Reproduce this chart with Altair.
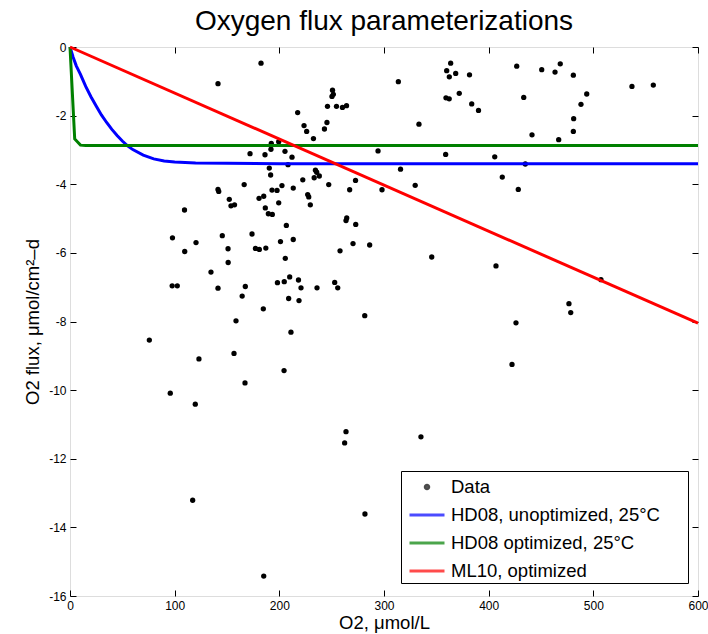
import altair as alt
import pandas as pd

FONT = "Liberation Sans"

# ---------------- data ----------------
series_names = ["Data", "HD08, unoptimized, 25°C", "HD08 optimized, 25°C", "ML10, optimized"]
series_colors = ["#000000", "#0000ff", "#008000", "#ff0000"]

data_o2 = [182.5, 141.4, 217.5, 192.3, 199.4, 192.0, 172.0, 186.3, 205.4, 212.1,
           208.3, 190.4, 191.7, 166.4, 141.4, 142.1, 202.5, 193.0, 197.8, 213.3,
           152.2, 153.8, 157.2, 180.6, 185.1, 199.4, 186.6, 189.5, 193.3, 109.4,
           97.9, 145.5, 173.9, 250.8, 251.6, 250.3, 246.0, 254.6, 260.3, 264.2,
           313.7, 359.9, 363.7, 362.4, 368.5, 381.7, 359.2, 362.3, 371.9, 223.6,
           226.1, 245.5, 243.1, 232.6, 333.4, 294.3, 358.9, 234.5, 235.7, 233.3,
           238.2, 222.4, 247.2, 272.8, 267.2, 298.1, 315.8, 329.8, 227.1, 228.1,
           229.6, 264.4, 263.7, 273.0, 206.7, 213.3, 201.1, 383.8, 390.3, 426.8,
           433.5, 450.7, 463.4, 468.4, 480.9, 493.7, 488.2, 481.2, 480.9, 466.9,
           441.4, 536.9, 557.3, 405.8, 435.0, 413.0, 428.3, 177.2, 180.9, 187.1,
           258.0, 270.4, 286.3, 205.7, 198.2, 204.7, 209.9, 218.3, 220.7, 236.0,
           252.9, 255.8, 208.9, 218.8, 184.7, 281.6, 211.1, 204.5, 109.6, 120.4,
           151.0, 151.1, 134.7, 97.6, 102.5, 141.4, 167.5, 164.5, 158.6, 75.8,
           123.2, 156.7, 167.2, 95.8, 345.6, 407.0, 507.3, 476.7, 478.4, 426.1,
           422.3, 119.7, 263.7, 262.4, 117.2, 281.8, 185.1, 335.3]

data_flux = [-0.47, -1.07, -1.91, -2.81, -2.76, -2.98, -3.11, -3.14, -3.04, -3.21,
             -3.43, -3.53, -3.73, -4.01, -4.15, -4.21, -4.04, -4.17, -4.18, -4.11,
             -4.44, -4.63, -4.60, -4.41, -4.35, -4.54, -4.69, -4.86, -4.88, -4.75,
             -5.56, -5.50, -5.45, -1.26, -1.38, -1.44, -1.73, -1.73, -1.76, -1.71,
             -1.01, -0.69, -0.47, -0.87, -0.77, -0.81, -1.48, -1.51, -1.35, -2.29,
             -2.46, -2.20, -2.39, -2.67, -2.25, -3.03, -3.13, -3.59, -3.65, -3.81,
             -3.76, -3.87, -4.01, -3.89, -4.16, -4.16, -3.56, -4.03, -4.30, -4.37,
             -4.60, -4.98, -5.06, -5.17, -5.20, -5.61, -5.67, -1.66, -1.85, -0.56,
             -1.47, -0.66, -0.73, -0.49, -0.82, -1.37, -1.67, -2.09, -2.46, -2.70,
             -2.56, -1.15, -1.11, -3.20, -3.41, -3.79, -4.15, -5.87, -5.90, -5.86,
             -5.94, -5.73, -5.77, -6.16, -6.87, -6.84, -6.70, -6.79, -7.02, -7.02,
             -6.86, -7.02, -7.33, -7.39, -7.63, -7.83, -8.31, -9.43, -5.96, -5.70,
             -5.88, -6.28, -6.56, -6.96, -6.96, -7.03, -6.98, -7.26, -7.98, -8.54,
             -9.09, -8.93, -9.79, -10.09, -6.12, -6.38, -6.78, -7.48, -7.74, -8.04,
             -9.25, -10.41, -11.21, -11.54, -13.21, -13.61, -15.42, -11.36]

hd08_unopt_o2 = [0, 3, 6, 10, 15, 20, 25, 30, 35, 40, 45, 50, 55, 60, 70, 80, 90,
                 100, 120, 150, 200, 600]
hd08_unopt_flux = [0, -0.30, -0.55, -0.80, -1.15, -1.45, -1.72, -1.98, -2.20, -2.40,
                   -2.58, -2.74, -2.88, -2.99, -3.15, -3.26, -3.32, -3.35, -3.38,
                   -3.39, -3.40, -3.40]

hd08_opt_o2 = [0, 4.5, 10, 15, 600]
hd08_opt_flux = [0, -2.68, -2.86, -2.87, -2.87]

ml10_o2 = [0, 600]
ml10_flux = [0, -8.05]

x_ticks = [0, 100, 200, 300, 400, 500, 600]
y_ticks = [-16, -14, -12, -10, -8, -6, -4, -2, 0]

# ---------------- tables ----------------
pts = pd.DataFrame({"o2": data_o2, "flux": data_flux})
curve_tables = [
    pd.DataFrame({"o2": hd08_unopt_o2, "flux": hd08_unopt_flux}),
    pd.DataFrame({"o2": hd08_opt_o2, "flux": hd08_opt_flux}),
    pd.DataFrame({"o2": ml10_o2, "flux": ml10_flux}),
]
legend_df = pd.DataFrame({"series": series_names})

xs = alt.Scale(domain=[0, 600], nice=False, zero=False)
ys = alt.Scale(domain=[-16, 0], nice=False, zero=False)

common_axis = dict(offset=-6, tickSize=6, domain=False, grid=False, ticks=True,
                   tickColor="black", tickWidth=1, labelFont=FONT, labelFontSize=12,
                   labelColor="black", labelFlush=False, labelOverlap=False,
                   titleFont=FONT, titleFontSize=18.5, titleFontWeight="normal",
                   titleColor="black")

x_bottom = alt.Axis(orient="bottom", values=x_ticks, labelPadding=4, format="d",
                    title="O2, μmol/L", titlePadding=2, **common_axis)
y_left = alt.Axis(orient="left", values=y_ticks, labelPadding=4,
                  labelExpr="'' + datum.value",
                  title="O2 flux, μmol/cm²–d", titlePadding=6, **common_axis)
x_top = alt.Axis(orient="top", values=x_ticks, offset=-6, tickSize=6, domain=False,
                 grid=False, labels=False, title=None, tickColor="black", tickWidth=1)
y_right = alt.Axis(orient="right", values=y_ticks, offset=-6, tickSize=6, domain=False,
                   grid=False, labels=False, title=None, tickColor="black", tickWidth=1)

points = alt.Chart(pts).mark_circle(size=28, color="black", opacity=1).encode(
    x=alt.X("o2:Q", scale=xs, axis=x_bottom),
    y=alt.Y("flux:Q", scale=ys, axis=y_left),
)

line_layers = []
for i, tbl in enumerate(curve_tables):
    lx = alt.X("o2:Q", scale=xs, axis=x_top if i == 0 else None)
    ly = alt.Y("flux:Q", scale=ys, axis=y_right if i == 0 else None)
    line_layers.append(
        alt.Chart(tbl).mark_line(color=series_colors[i + 1], strokeWidth=3).encode(x=lx, y=ly)
    )

dot_path = "M0.14,0A0.14,0.14,0,1,1,-0.14,0A0.14,0.14,0,1,1,0.14,0Z"
dash_path = "M-1.4,0L1.4,0"
shape_range = [dot_path, dash_path, dash_path, dash_path]

legend_props = dict(
    orient="none", legendX=331, legendY=424,
    title="\u00a0", titleOrient="right", titlePadding=26, titleFontSize=6,
    labelFont=FONT, labelFontSize=18.5, labelColor="black", labelLimit=500,
    symbolSize=625, symbolStrokeWidth=3, symbolOffset=10, labelOffset=10,
    symbolFillColor="transparent",
    rowPadding=4, padding=2, strokeColor="black", fillColor="white",
)

legend_layer = alt.Chart(legend_df).mark_point(filled=False, strokeWidth=3, clip=True).encode(
    x=alt.value(10),
    y=alt.value(10),
    size=alt.value(0),
    color=alt.Color("series:N", scale=alt.Scale(domain=series_names, range=series_colors),
                    legend=alt.Legend(**legend_props)),
    shape=alt.Shape("series:N", scale=alt.Scale(domain=series_names, range=shape_range),
                    legend=alt.Legend(**legend_props)),
)

chart = (
    alt.layer(points, *line_layers, legend_layer)
    .resolve_axis(x="independent", y="independent")
    .properties(
        width=628,
        height=549,
        autosize=alt.AutoSizeParams(type="none"),
        padding={"left": 70, "top": 47, "right": 10, "bottom": 38},
        title=alt.TitleParams("Oxygen flux parameterizations", font=FONT, fontSize=28,
                              fontWeight="normal", color="black", anchor="middle",
                              frame="group", offset=14, baseline="alphabetic", dy=31),
    )
    .configure_view(stroke="black", strokeWidth=1.5)
    .configure(background="white")
)

chart.save("out.html", embed_options={"renderer": "svg", "actions": False})
